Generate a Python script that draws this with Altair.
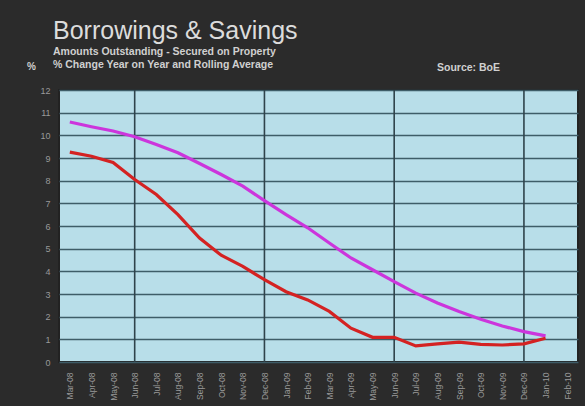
import altair as alt
import pandas as pd

# Monthly categories on the x axis
months = ["Mar-08", "Apr-08", "May-08", "Jun-08", "Jul-08", "Aug-08", "Sep-08",
          "Oct-08", "Nov-08", "Dec-08", "Jan-09", "Feb-09", "Mar-09", "Apr-09",
          "May-09", "Jun-09", "Jul-09", "Aug-09", "Sep-09", "Oct-09", "Nov-09",
          "Dec-09", "Jan-10", "Feb-10"]

# % change year on year (red) and its rolling average (magenta)
yoy_change = [9.26, 9.08, 8.80, 8.05, 7.39, 6.50, 5.47, 4.71, 4.22, 3.63, 3.10,
              2.74, 2.23, 1.49, 1.09, 1.09, 0.71, 0.80, 0.88, 0.78, 0.75, 0.80,
              1.05, None]
rolling_avg = [10.59, 10.38, 10.19, 9.94, 9.60, 9.23, 8.76, 8.27, 7.76, 7.12,
               6.50, 5.92, 5.25, 4.59, 4.07, 3.55, 3.04, 2.60, 2.23, 1.89, 1.59,
               1.34, 1.15, None]

# Half-year dividers
dividers = ["Jun-08", "Dec-08", "Jun-09", "Dec-09"]

series_names = ["Rolling Average", "% Change Year on Year"]
series_colors = ["#cc35dc", "#d42222"]

rows = []
for m, v in zip(months, rolling_avg):
    if v is not None:
        rows.append({"month": m, "series": series_names[0], "value": v})
for m, v in zip(months, yoy_change):
    if v is not None:
        rows.append({"month": m, "series": series_names[1], "value": v})
df = pd.DataFrame(rows)

x_scale = alt.Scale(type="point", padding=0.5, domain=months)
x_enc = alt.X("month:O", sort=months, scale=x_scale,
              axis=alt.Axis(title=None, labelAngle=270, labelColor="#999999",
                            labelFontSize=8.5, labelPadding=10, ticks=False,
                            domain=False, grid=False, labelFont="Liberation Sans"))
y_scale = alt.Scale(domain=[0, 12], nice=False)

rules = alt.Chart(pd.DataFrame({"month": dividers})).mark_rule(
    color="#2f434b", strokeWidth=1.6
).encode(x=alt.X("month:O", sort=months, scale=x_scale))

lines = alt.Chart(df).mark_line(strokeWidth=3.2).encode(
    x=x_enc,
    y=alt.Y("value:Q", scale=y_scale,
            axis=alt.Axis(title=None, values=list(range(13)), grid=True,
                          gridColor="#3e5d68", gridWidth=1.5, domain=False,
                          ticks=False, labelColor="#999999", labelFontSize=9,
                          labelPadding=9, labelFont="Liberation Sans")),
    color=alt.Color("series:N", scale=alt.Scale(domain=series_names,
                                                range=series_colors),
                    legend=None),
    detail="series:N",
)


def label(text, x, y, size, color, weight="normal", align="left"):
    return alt.Chart(pd.DataFrame({"t": [text]})).mark_text(
        font="Liberation Sans", fontSize=size, color=color, fontWeight=weight,
        align=align, baseline="alphabetic"
    ).encode(text="t:N", x=alt.value(x), y=alt.value(y))


title = label("Borrowings & Savings", -6, -51, 25, "#dcdcdc")
sub1 = label("Amounts Outstanding - Secured on Property", -6, -35, 10.5,
             "#d0d0d0", "bold")
sub2 = label("% Change Year on Year and Rolling Average", -6, -22, 10.5,
             "#d0d0d0", "bold")
pct = label("%", -32, -20, 10, "#d0d0d0", "bold")
source = label("Source: BoE", 378, -19, 10.5, "#d0d0d0", "bold")

chart = alt.layer(rules, lines, title, sub1, sub2, pct, source).properties(
    width=519, height=272,
    padding={"left": 59, "top": 90, "right": 7, "bottom": 44},
    autosize=alt.AutoSizeParams(type="none"),
    background="#2b2b2b",
).configure_view(
    fill="#b8dee9", stroke="#222222", strokeWidth=2
)

chart.save("out.html", embed_options={"renderer": "svg", "actions": False})
